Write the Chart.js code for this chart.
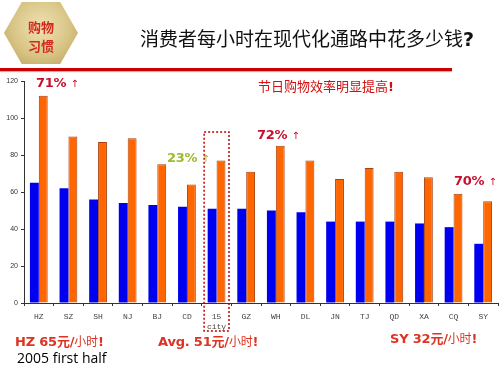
<!DOCTYPE html>
<html>
<head>
<meta charset="utf-8">
<script src="https://cdn.jsdelivr.net/npm/chart.js@4"></script>
<style>
  html, body { margin: 0; padding: 0; background: #fff; }
  #wrap { position: relative; width: 500px; height: 365px; overflow: hidden; }
  #wrap canvas { position: absolute; left: 0; top: 0; }
  .t { position: absolute; white-space: nowrap; line-height: 1; }
  .hex {
    position: absolute; left: 4px; top: 2px; width: 74px; height: 62px;
    clip-path: polygon(0 50%, 24% 0, 76% 0, 100% 50%, 76% 100%, 24% 100%);
    background: radial-gradient(ellipse at 50% 40%, #efe3b4 0%, #d8c485 55%, #b79e58 100%);
  }
  .hex span { position: absolute; left: 24px; font: bold 13px "Noto Sans CJK SC"; color: #d42a1e; }
  .redline { position: absolute; left: 0; top: 68px; width: 452px; height: 3px; background: #cc0000; box-shadow: 0 1px 1px #d8a0a0; }
  .pct { font: bold 13px "DejaVu Sans", sans-serif; color: #c8102e; letter-spacing: -0.3px; }
  .pct i { font-style: normal; font-weight: normal; font-size: 10px; }
  .note { font: bold 13px "DejaVu Sans", sans-serif; color: #dd3322; letter-spacing: -0.2px; }
  .note b { font-family: "Noto Sans CJK SC"; font-weight: bold; }
  .note s { text-decoration: none; font-family: "Noto Sans CJK SC"; font-weight: normal; font-size: 12px; }
</style>
</head>
<body>
<div id="wrap">
  <canvas id="chart" width="500" height="365"></canvas>
  <div class="hex"><span style="top:15px">购物</span><span style="top:34px">习惯</span></div>
  <div class="t" style="left:140px;top:24px;font:19px 'Noto Sans CJK SC';color:#111;">消费者每小时在现代化通路中花多少钱<span style="font:bold 19px 'DejaVu Sans'">?</span></div>
  <div class="redline"></div>
  <div class="t" style="left:258px;top:76px;font:13px 'Noto Sans CJK SC';color:#d01010;">节日购物效率明显提高<b style="font-family:'DejaVu Sans'">!</b></div>
  <div class="t pct" style="left:36px;top:75px;">71% <i>↑</i></div>
  <div class="t pct" style="left:257px;top:127px;">72% <i>↑</i></div>
  <div class="t pct" style="left:454px;top:173px;">70% <i>↑</i></div>
  <div class="t pct" style="left:167px;top:150px;color:#9bbb30;">23% <i>↑</i></div>
  <div class="t note" style="left:15px;top:331px;">HZ 65<b>元</b>/<s>小时</s>!</div>
  <div class="t note" style="left:158px;top:331px;">Avg. 51<b>元</b>/<s>小时</s>!</div>
  <div class="t note" style="left:390px;top:328px;">SY 32<b>元</b>/<s>小时</s>!</div>
  <div class="t" style="left:17px;top:348px;font:14px 'Open Sans';color:#000;">2005 first half</div>
</div>
<script>
const cities = ["HZ", "SZ", "SH", "NJ", "BJ", "CD", ["15", "city"], "GZ", "WH", "DL", "JN", "TJ", "QD", "XA", "CQ", "SY"];
const normalDays = [65, 62, 56, 54, 53, 52, 51, 51, 50, 49, 44, 44, 44, 43, 41, 32];
const holidays = [112, 90, 87, 89, 75, 64, 77, 71, 85, 77, 67, 73, 71, 68, 59, 55];
const yTicks = [0, 20, 40, 60, 80, 100, 120];
const avgIndex = 6;

// dotted box round the 15-city average
const avgBox = {
  id: "avgBox",
  afterDraw(chart) {
    const x = chart.scales.x;
    const ctx = chart.ctx;
    const c = x.getPixelForValue(avgIndex);
    const half = (x.getPixelForValue(1) - x.getPixelForValue(0)) * 0.42;
    ctx.save();
    ctx.strokeStyle = "#c00000";
    ctx.lineWidth = 1.5;
    ctx.setLineDash([2, 2]);
    ctx.strokeRect(c - half, 132, half * 2, 199);
    ctx.restore();
  }
};

const ctx = document.getElementById("chart").getContext("2d");
new Chart(ctx, {
  type: "bar",
  data: {
    labels: cities,
    datasets: [
      {
        label: "normal",
        data: normalDays,
        backgroundColor: "#0000f0",
        borderWidth: 0,
      },
      {
        label: "holiday",
        data: holidays,
        backgroundColor: "#ff6600",
        borderColor: "#a84010",
        borderWidth: 1,
      },
    ],
  },
  options: {
    responsive: false,
    animation: false,
    categoryPercentage: 0.6,
    barPercentage: 1.0,
    layout: { padding: { left: 0, right: 2, top: 81, bottom: 32 } },
    plugins: { legend: { display: false }, tooltip: { enabled: false } },
    scales: {
      x: {
        afterFit(s) { s.height = 30; },
        grid: { drawOnChartArea: false, tickLength: 3, color: "#333" },
        border: { color: "#333" },
        ticks: { color: "#444", padding: 6, font: { family: "Liberation Mono", size: 8 }, maxRotation: 0, autoSkip: false },
      },
      y: {
        min: 0,
        max: 120,
        afterFit(s) { s.width = 24; },
        afterBuildTicks(s) { s.ticks = yTicks.map(v => ({ value: v })); },
        grid: { drawOnChartArea: false, tickLength: 3, color: "#333" },
        border: { color: "#333" },
        ticks: { color: "#333", padding: 3, font: { family: "Liberation Sans", size: 7 } },
      },
    },
  },
  plugins: [avgBox],
});
</script>
</body>
</html>
